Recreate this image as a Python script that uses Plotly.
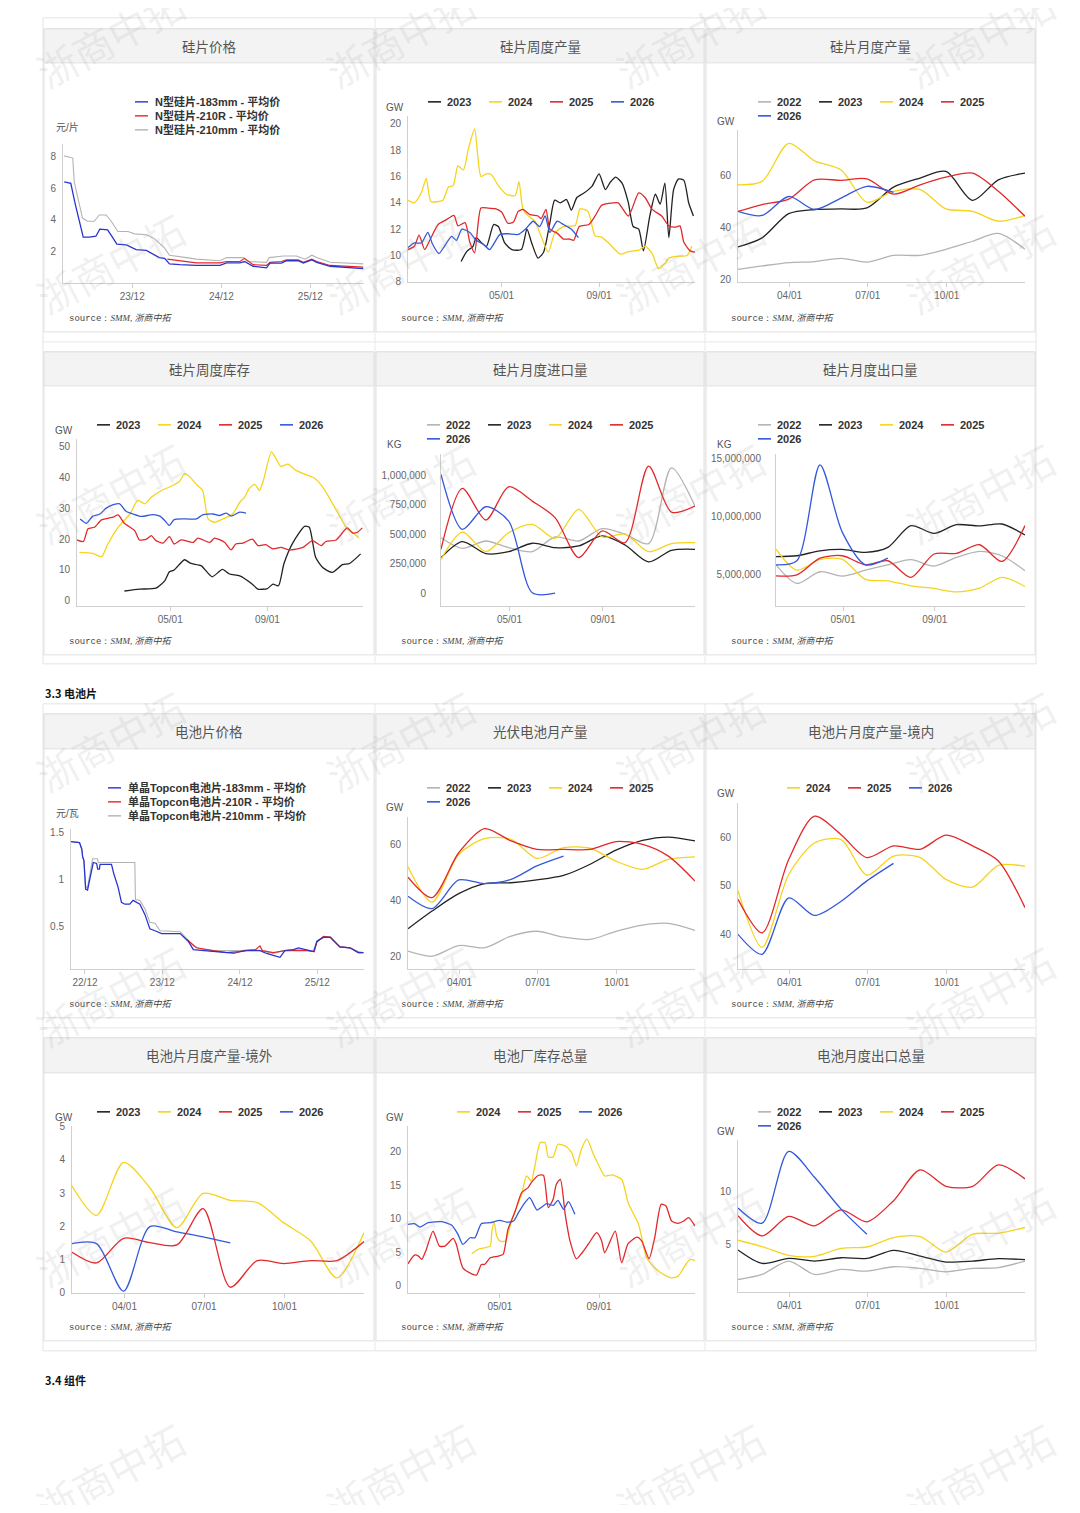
import pandas as pd
import plotly.graph_objects as go

# ---------------- 数据 ----------------
YEARS = ["2022", "2023", "2024", "2025", "2026"]
YEAR_COLORS = {"2022": "#b3b3b3", "2023": "#222222", "2024": "#f6d41c",
               "2025": "#e2282a", "2026": "#3358dc"}
BASE = pd.Timestamp("2025-01-01")                       # 周度数据按年内天数对齐
MONTH_END = pd.date_range("2025-01-31", periods=12, freq="ME")

# 硅片价格 (元/片)
wafer_183_dates = ["2023-02-25", "2023-03-24", "2023-04-11", "2023-04-27", "2023-05-14", "2023-06-08",
                   "2023-07-05", "2023-07-21", "2023-08-22", "2023-09-06", "2023-09-29", "2023-11-07",
                   "2023-12-17", "2024-01-28", "2024-02-24", "2024-03-21", "2024-04-12", "2024-05-02",
                   "2024-06-13", "2024-08-20", "2024-11-25", "2024-12-22", "2025-02-15", "2025-03-06",
                   "2025-04-10", "2025-06-04", "2025-06-18", "2025-08-04", "2025-08-25", "2025-10-12",
                   "2025-11-02", "2025-12-07", "2025-12-27", "2026-02-20", "2026-07-06"]
wafer_183 = [6.4, 6.3, 5.0, 3.9, 2.9, 2.9, 2.95, 3.4, 3.35, 3.0, 2.45, 2.4, 2.1, 2.05, 1.8, 1.6, 1.55,
             1.2, 1.15, 1.1, 1.1, 1.27, 1.27, 1.35, 1.05, 0.95, 1.25, 1.25, 1.4, 1.4, 1.25, 1.45, 1.3,
             1.05, 0.9]
wafer_210r_dates = ["2024-04-23", "2024-06-13", "2024-08-20", "2024-11-25", "2024-12-22", "2025-02-15",
                    "2025-03-06", "2025-04-10", "2025-06-04", "2025-06-18", "2025-08-04", "2025-08-25",
                    "2025-10-12", "2025-11-02", "2025-12-07", "2025-12-27", "2026-02-20", "2026-07-06"]
wafer_210r = [1.5, 1.4, 1.27, 1.27, 1.35, 1.35, 1.55, 1.15, 1.1, 1.3, 1.35, 1.45, 1.45, 1.3, 1.5, 1.35,
              1.1, 1.0]
wafer_210_dates = ["2023-02-25", "2023-04-01", "2023-04-07", "2023-04-27", "2023-05-11", "2023-06-01",
                   "2023-06-28", "2023-07-19", "2023-08-16", "2023-09-06", "2023-10-03", "2023-11-14",
                   "2023-12-10", "2024-01-28", "2024-03-01", "2024-04-12", "2024-05-02", "2024-07-10",
                   "2024-08-20", "2024-11-25", "2024-12-22", "2025-03-01", "2025-03-20", "2025-06-04",
                   "2025-06-15", "2025-08-12", "2025-10-05", "2025-11-09", "2025-12-07", "2025-12-27",
                   "2026-02-20", "2026-07-06"]
wafer_210 = [8.04, 7.9, 6.4, 5.1, 4.1, 3.9, 3.9, 4.3, 4.3, 3.9, 3.25, 3.25, 3.1, 3.05, 2.8, 2.2, 1.75,
             1.6, 1.5, 1.4, 1.6, 1.6, 1.35, 1.3, 1.6, 1.7, 1.7, 1.5, 1.75, 1.6, 1.3, 1.2]

# 硅片周度产量 (GW), x 为年内天数
wk_prod_doy = {
    "2023": [69, 76, 84, 88, 95, 101, 110, 116, 124, 133, 145, 152, 158, 166, 173, 181, 187, 194, 202,
             208, 215, 223, 234, 243, 251, 257, 264, 272, 280, 286, 293, 299, 307, 314, 320, 326, 331,
             337, 343, 350, 356, 362],
    "2024": [2, 10, 19, 25, 31, 46, 53, 59, 65, 72, 78, 86, 94, 101, 107, 116, 126, 137, 142, 147, 154,
             162, 170, 179, 187, 198, 213, 219, 229, 238, 246, 255, 270, 280, 293, 301, 310, 318, 326,
             331, 343, 354, 360],
    "2025": [2, 10, 16, 23, 29, 40, 50, 60, 65, 74, 80, 86, 94, 103, 112, 120, 128, 135, 141, 147, 156,
             166, 170, 176, 181, 190, 198, 206, 211, 218, 230, 238, 246, 255, 267, 280, 293, 301, 310,
             322, 331, 339, 345, 350, 358, 364],
    "2026": [2, 10, 19, 27, 33, 41, 48, 57, 63, 70, 80, 88, 97, 105, 118, 128, 141, 150, 160, 168, 175,
             181, 190, 198, 208, 217],
}
wk_prod = {
    "2023": [9.55, 10.3, 10.7, 11.35, 10.95, 10.7, 12.35, 12.2, 10.95, 10.45, 10.45, 12.0, 10.95, 9.8,
             10.25, 12.5, 14.2, 14.0, 14.25, 13.45, 14.4, 14.7, 15.25, 16.2, 15.0, 15.55, 15.95, 15.5,
             14.0, 12.2, 12.0, 10.35, 13.0, 14.65, 13.9, 15.5, 11.35, 15.0, 15.8, 15.7, 14.0, 13.0],
    "2024": [14.2, 14.0, 14.8, 15.85, 14.1, 14.2, 15.2, 15.3, 16.8, 16.5, 18.05, 19.6, 16.0, 16.2, 16.15,
             15.3, 14.65, 14.55, 15.6, 13.5, 13.0, 12.6, 11.45, 10.25, 11.7, 12.2, 12.3, 13.55, 13.35,
             11.5, 11.4, 10.95, 10.1, 10.3, 10.4, 10.7, 10.15, 9.0, 9.4, 9.8, 9.95, 10.0, 10.7],
    "2025": [10.45, 10.7, 11.55, 10.45, 11.1, 12.35, 12.7, 13.05, 12.25, 12.5, 11.0, 10.2, 13.6, 13.6,
             13.55, 13.3, 12.45, 12.55, 13.35, 13.5, 13.1, 13.0, 12.8, 13.5, 12.0, 11.7, 11.25, 11.25,
             11.15, 12.2, 12.35, 13.0, 13.8, 13.95, 14.0, 13.0, 14.75, 14.4, 13.5, 13.0, 12.25, 12.15,
             12.25, 11.0, 10.35, 10.25],
    "2026": [10.6, 10.95, 10.95, 11.75, 10.85, 10.15, 10.7, 11.45, 11.15, 12.0, 11.75, 11.15, 10.85,
             10.45, 11.6, 11.65, 11.6, 12.0, 12.6, 12.2, 13.0, 11.75, 12.6, 12.35, 12.0, 11.35],
}

# 硅片月度产量 (GW)
m_wafer = {
    "2022": [23.8, 25.1, 26.4, 26.8, 28.0, 26.6, 29.2, 29.2, 31.5, 34.6, 37.6, 31.5],
    "2023": [32.4, 35.9, 45.2, 46.8, 47.0, 47.4, 55.4, 58.9, 61.4, 50.3, 58.2, 60.8],
    "2024": [56.3, 57.6, 72.2, 65.5, 62.0, 49.6, 53.8, 54.4, 47.0, 46.1, 42.3, 44.5],
    "2025": [46.1, 48.7, 50.8, 58.2, 58.0, 58.6, 52.7, 56.3, 59.2, 60.8, 53.8, 44.2],
    "2026": [46.1, 44.5, 51.8, 46.8, 51.2, 55.7, 53.4],
}

# 硅片周度库存 (GW)
wk_inv_doy = {
    "2023": [62, 81, 102, 113, 119, 125, 138, 146, 159, 173, 186, 195, 208, 224, 231, 243, 250, 257,
             264, 275, 290, 296, 304, 313, 325, 338, 347, 361],
    "2024": [5, 22, 33, 41, 54, 69, 79, 88, 96, 109, 123, 132, 138, 144, 153, 161, 168, 176, 184, 199,
             208, 214, 220, 227, 233, 238, 248, 254, 260, 269, 279, 292, 302, 313, 321, 334, 344, 353,
             359],
    "2025": [2, 10, 16, 24, 33, 41, 48, 54, 62, 75, 81, 90, 96, 102, 111, 119, 125, 134, 149, 155, 170,
             176, 189, 197, 203, 212, 224, 231, 241, 250, 260, 271, 288, 300, 311, 317, 330, 344, 351,
             357, 363],
    "2026": [6, 14, 22, 31, 39, 48, 56, 64, 73, 83, 98, 107, 113, 119, 125, 140, 153, 161, 174, 182,
             191, 197, 208, 216],
}
wk_inv = {
    "2023": [3.2, 3.8, 4.1, 6.5, 9.4, 10.0, 13.3, 12.1, 11.4, 7.8, 10.2, 8.7, 8.1, 5.4, 3.8, 4.0, 5.4,
             4.9, 12.1, 18.7, 24.1, 23.8, 14.1, 10.8, 9.2, 11.7, 12.1, 15.2],
    "2024": [15.7, 15.4, 14.3, 18.4, 23.8, 28.1, 32.5, 31.4, 33.5, 35.7, 37.3, 38.7, 41.1, 40.3, 37.7,
             35.7, 26.5, 25.4, 26.2, 28.1, 31.9, 33.5, 36.3, 37.7, 35.7, 39.0, 48.2, 46.0, 43.5, 44.2,
             42.2, 40.8, 39.8, 36.8, 33.5, 27.6, 23.3, 21.6, 20.3],
    "2025": [19.7, 19.2, 23.3, 23.8, 26.2, 26.7, 27.1, 27.8, 25.1, 22.7, 19.7, 20.0, 21.1, 19.5, 18.7,
             20.8, 18.4, 19.7, 18.9, 20.3, 18.9, 20.3, 18.9, 16.5, 18.4, 18.7, 20.0, 17.9, 18.2, 16.8,
             17.3, 16.5, 17.3, 19.5, 17.9, 19.2, 19.7, 23.6, 22.0, 22.2, 23.6],
    "2026": [26.5, 25.1, 27.4, 28.1, 30.0, 31.1, 31.4, 29.0, 28.1, 27.3, 27.9, 27.4, 26.0, 24.4, 26.3,
             26.5, 26.5, 27.8, 28.1, 27.6, 28.4, 27.4, 28.7, 28.4],
}

# 硅片月度进口量 (KG)
m_import = {
    "2022": [470000, 380000, 442000, 386000, 352000, 476000, 442000, 547000, 500000, 420000, 1062000, 738000],
    "2023": [301000, 437000, 335000, 352000, 423000, 386000, 400000, 485000, 408000, 265000, 363000, 372000],
    "2024": [287000, 518000, 352000, 513000, 583000, 465000, 710000, 476000, 500000, 352000, 420000, 428000],
    "2025": [372000, 887000, 620000, 901000, 780000, 640000, 301000, 527000, 428000, 1076000, 687000, 738000],
    "2026": [1006000, 541000, 732000, 611000, 4000, 0],
}

# 硅片月度出口量 (KG)
m_export = {
    "2022": [5860000, 4250000, 5260000, 4880000, 5400000, 5860000, 6300000, 5750000, 6500000, 7020000, 6640000, 5350000],
    "2023": [6560000, 6640000, 7070000, 7190000, 6930000, 7360000, 9240000, 8570000, 9320000, 9210000, 9380000, 8430000],
    "2024": [7220000, 5400000, 6330000, 6330000, 4600000, 4480000, 4050000, 3820000, 3530000, 3850000, 4770000, 3990000],
    "2025": [4910000, 5000000, 6440000, 6640000, 5860000, 6210000, 4770000, 6790000, 6840000, 7590000, 6150000, 9240000],
    "2026": [5860000, 6210000, 14480000, 8660000, 5860000, 6440000],
}

# 电池片价格 (元/瓦)
cell_183_dates = ["2022-09-26", "2022-11-05", "2022-11-16", "2022-11-20", "2022-11-26", "2022-12-04",
                  "2022-12-13", "2022-12-27", "2023-01-09", "2023-01-25", "2023-01-30", "2023-02-07",
                  "2023-02-10", "2023-04-05", "2023-04-16", "2023-05-06", "2023-05-22", "2023-06-07",
                  "2023-06-30", "2023-07-16", "2023-08-17", "2023-09-10", "2023-10-03", "2023-10-27",
                  "2023-11-28", "2024-02-23", "2024-03-09", "2024-04-01", "2024-04-25", "2024-06-11",
                  "2024-07-28", "2024-09-30", "2024-12-02", "2025-01-03", "2025-03-05", "2025-04-06",
                  "2025-05-07", "2025-06-08", "2025-07-01", "2025-08-10", "2025-09-03", "2025-10-12",
                  "2025-11-13", "2025-11-29", "2025-12-30", "2026-01-31", "2026-03-17", "2026-05-04",
                  "2026-06-12", "2026-07-06"]
cell_183 = [1.40, 1.39, 1.32, 1.24, 1.20, 0.90, 0.89, 1.06, 1.18, 1.17, 1.11, 1.11, 1.16, 1.16, 1.06,
            0.92, 0.76, 0.74, 0.74, 0.78, 0.74, 0.63, 0.48, 0.46, 0.43, 0.43, 0.40, 0.35, 0.26, 0.25,
            0.24, 0.23, 0.24, 0.25, 0.25, 0.22, 0.20, 0.18, 0.25, 0.26, 0.28, 0.26, 0.24, 0.35, 0.39,
            0.39, 0.29, 0.28, 0.23, 0.23]
cell_210r_dates = ["2024-03-24", "2024-05-10", "2024-07-28", "2024-11-01", "2024-12-18", "2025-02-12",
                   "2025-03-05", "2025-03-17", "2025-05-07", "2025-07-01", "2025-10-12", "2025-11-16",
                   "2025-11-29", "2025-12-30", "2026-01-31", "2026-03-17", "2026-05-04", "2026-06-12",
                   "2026-07-06"]
cell_210r = [0.37, 0.28, 0.25, 0.22, 0.25, 0.26, 0.30, 0.25, 0.23, 0.25, 0.25, 0.24, 0.34, 0.40, 0.39,
             0.29, 0.28, 0.23, 0.23]
cell_210_dates = ["2022-09-26", "2022-11-05", "2022-11-16", "2022-11-20", "2022-11-26", "2022-12-04",
                  "2022-12-13", "2022-12-27", "2023-01-06", "2023-01-28", "2023-02-02", "2023-07-24",
                  "2023-07-27", "2023-08-17", "2023-09-10", "2023-10-03", "2023-10-27", "2023-11-20",
                  "2024-02-23", "2024-03-24", "2024-04-25", "2024-05-26", "2024-07-28", "2024-12-02",
                  "2025-02-04", "2025-03-13", "2025-05-07", "2025-06-24", "2025-08-10", "2025-10-12",
                  "2025-11-16", "2025-11-29", "2025-12-30", "2026-01-31", "2026-03-17", "2026-05-04",
                  "2026-06-12", "2026-07-06"]
cell_210 = [1.40, 1.39, 1.32, 1.24, 1.20, 0.92, 0.92, 1.09, 1.22, 1.22, 1.18, 1.18, 0.79, 0.78, 0.69,
            0.55, 0.54, 0.46, 0.45, 0.38, 0.30, 0.27, 0.25, 0.25, 0.26, 0.25, 0.22, 0.25, 0.26, 0.26,
            0.24, 0.35, 0.40, 0.40, 0.29, 0.28, 0.24, 0.23]

# 光伏电池月产量 (GW)
m_cell = {
    "2022": [21.9, 20.1, 23.9, 23.1, 27.3, 29.0, 26.9, 26.1, 29.0, 31.2, 31.8, 29.3],
    "2023": [29.9, 36.2, 42.4, 46.0, 46.3, 47.3, 48.9, 52.9, 57.9, 61.4, 62.6, 61.2],
    "2024": [52.0, 39.4, 56.4, 62.0, 61.8, 55.0, 58.8, 58.6, 54.0, 51.1, 54.6, 55.5],
    "2025": [48.3, 41.0, 57.0, 65.6, 61.2, 58.2, 58.2, 58.2, 61.0, 60.0, 55.8, 46.9],
    "2026": [41.5, 37.1, 47.3, 46.0, 47.5, 52.3, 55.8],
}

# 电池片月度产量-境内 (GW)
m_cell_dom = {
    "2024": [49.0, 37.3, 52.3, 58.8, 59.5, 52.2, 56.1, 55.8, 51.3, 49.7, 54.2, 54.0],
    "2025": [47.2, 40.3, 55.4, 64.3, 60.5, 55.8, 58.2, 57.5, 60.4, 58.2, 55.1, 45.5],
    "2026": [40.0, 35.9, 47.5, 43.9, 46.8, 51.0, 54.6],
}

# 电池片月度产量-境外 (GW)
m_cell_abr = {
    "2023": [],
    "2024": [3.21, 2.33, 3.92, 3.16, 1.96, 2.99, 2.78, 2.71, 2.11, 1.56, 0.45, 1.81],
    "2025": [1.22, 0.90, 1.64, 1.51, 1.44, 2.53, 0.17, 0.97, 0.88, 0.97, 0.97, 1.54],
    "2026": [1.48, 1.48, 0.05, 1.99, 1.83, 1.68, 1.50],
}

# 电池厂库存总量 (GW)
wk_stock_doy = {
    "2024": [85, 93, 101, 108, 110, 113, 116, 120, 127, 132, 139, 147, 153, 159, 163, 170, 176, 180,
             186, 192, 201, 209, 215, 221, 228, 236, 242, 250, 259, 271, 279, 292, 302, 312, 323, 333,
             341, 352, 356, 362],
    "2025": [6, 14, 19, 23, 28, 37, 45, 52, 62, 66, 74, 85, 91, 97, 101, 108, 118, 124, 130, 139, 147,
             155, 159, 168, 174, 180, 186, 190, 195, 201, 207, 215, 221, 230, 240, 246, 250, 263, 271,
             279, 290, 296, 305, 312, 320, 326, 333, 341, 348, 354, 362],
    "2026": [6, 14, 21, 31, 48, 60, 68, 74, 83, 89, 97, 108, 120, 128, 137, 143, 151, 157, 166, 172,
             178, 186, 192, 199, 205, 213],
}
wk_stock = {
    "2024": [4.75, 5.4, 5.65, 5.9, 8.15, 9.4, 7.4, 6.65, 6.65, 8.65, 11.15, 13.65, 16.4, 15.65, 17.65,
             21.4, 21.4, 19.25, 19.25, 21.15, 20.9, 19.9, 17.9, 20.4, 21.9, 19.65, 18.15, 16.4, 16.55,
             15.9, 12.4, 9.15, 4.15, 2.65, 1.65, 1.15, 1.4, 3.4, 3.9, 3.75],
    "2025": [3.25, 4.55, 4.4, 3.9, 5.15, 8.15, 5.9, 5.9, 7.05, 6.15, 2.65, 1.75, 1.55, 3.15, 3.15, 4.15,
             4.4, 4.65, 8.4, 11.15, 13.9, 14.65, 15.4, 16.5, 16.5, 11.65, 12.9, 15.15, 15.9, 10.65, 6.65,
             4.0, 4.75, 6.25, 7.9, 6.75, 4.9, 8.15, 3.4, 6.25, 7.25, 6.65, 4.0, 7.15, 12.15, 11.9, 9.65,
             9.3, 9.65, 10.15, 8.9],
    "2026": [9.15, 9.25, 8.75, 9.4, 9.55, 9.05, 7.65, 6.15, 7.15, 7.15, 9.25, 9.4, 9.75, 9.5, 9.65, 10.9,
             12.4, 13.15, 11.3, 11.75, 12.25, 12.0, 12.75, 11.4, 12.55, 10.65],
}

# 电池月度出口总量 (GW)
m_cell_exp = {
    "2022": [1.78, 2.25, 3.5, 2.25, 2.72, 2.56, 2.97, 2.81, 2.5, 2.81, 2.88, 3.5],
    "2023": [4.53, 3.28, 3.75, 3.5, 3.81, 3.75, 4.5, 3.97, 3.41, 3.5, 3.72, 3.63],
    "2024": [5.44, 4.84, 4.03, 3.94, 4.69, 4.81, 5.69, 5.78, 4.34, 6.0, 6.09, 6.63],
    "2025": [7.72, 5.84, 7.66, 6.78, 8.28, 7.16, 9.13, 12.0, 10.47, 10.47, 12.47, 11.16],
    "2026": [8.44, 7.03, 13.72, 11.31, 8.34, 6.0],
}

# ---------------- 版面 ----------------
W, H, OFF = 1064, 1497, 8          # 页面 body 默认 8px 边距


def px(x):
    return (x - OFF) / W


def py(y):
    # 截图里纵向有轻微压缩，按实测换算回设计坐标
    yd = (y - 4.2) / 0.99333
    return 1 - (yd - OFF) / H


FONT = "Liberation Sans, Arial, Noto Sans CJK SC, sans-serif"
CJK = "Noto Sans CJK SC, sans-serif"
AXIS = "#cfcfcf"
TICKFONT = dict(family=FONT, size=10, color="#666")

fig = go.Figure()
shapes, annos = [], []


def ax(n):
    return "" if n == 1 else str(n)


def add_line(n, x, y, color, shape="spline", smoothing=0.8, width=1.3):
    fig.add_trace(go.Scatter(x=x, y=y, mode="lines", showlegend=False, hoverinfo="skip",
                             line=dict(color=color, width=width, shape=shape, smoothing=smoothing),
                             xaxis="x" + ax(n), yaxis="y" + ax(n)))


def set_axes(n, box, xrange, xticks, xlabels, yrange, yticks, yfmt="", standoff=4):
    x0, x1, yt, yb = box
    k = ax(n)
    fig.update_layout(**{
        "xaxis" + k: dict(domain=[px(x0), px(x1)], anchor="y" + k, type="date", range=xrange,
                          tickmode="array", tickvals=xticks, ticktext=xlabels, showline=True,
                          linecolor=AXIS, ticks="outside", ticklen=4, tickcolor=AXIS,
                          showgrid=False, zeroline=False, tickfont=TICKFONT, fixedrange=True),
        "yaxis" + k: dict(domain=[py(yb), py(yt)], anchor="x" + k, range=yrange, tickmode="array",
                          tickvals=yticks, tickformat=yfmt, showline=True, linecolor=AXIS, ticks="",
                          showgrid=False, zeroline=False, tickfont=TICKFONT,
                          ticklabelstandoff=standoff, fixedrange=True),
    })


def legend_row(x0, y0, names, step=61, per_row=4):
    for i, name in enumerate(names):
        r, c = divmod(i, per_row)
        x, y = x0 + c * step, y0 + r * 14
        shapes.append(dict(type="line", xref="paper", yref="paper", x0=px(x), x1=px(x + 13),
                           y0=py(y), y1=py(y), line=dict(color=YEAR_COLORS[name], width=1.6)))
        annos.append(dict(text=f"<b>{name}</b>", x=px(x + 17), y=py(y), xref="paper", yref="paper",
                          xanchor="left", yanchor="middle", showarrow=False,
                          font=dict(family=FONT, size=11, color="#333")))


def legend_col(x0, y0, items):
    for i, (name, color) in enumerate(items):
        y = y0 + i * 14
        shapes.append(dict(type="line", xref="paper", yref="paper", x0=px(x0), x1=px(x0 + 13),
                           y0=py(y), y1=py(y), line=dict(color=color, width=1.4)))
        annos.append(dict(text=f"<b>{name}</b>", x=px(x0 + 18), y=py(y), xref="paper", yref="paper",
                          xanchor="left", yanchor="middle", showarrow=False,
                          font=dict(family=FONT, size=11, color="#333")))


def text(x, y, s, size=10, color="#555", family=FONT, xanchor="left", angle=0):
    annos.append(dict(text=s, x=px(x), y=py(y), xref="paper", yref="paper", xanchor=xanchor,
                      yanchor="middle", showarrow=False, textangle=angle,
                      font=dict(family=family, size=size, color=color)))


# 表格外框与卡片
for top, bot, hline in [(17, 663, 341), (703, 1350, 1027)]:
    shapes.append(dict(type="rect", xref="paper", yref="paper", x0=px(43), x1=px(1036), y0=py(bot),
                       y1=py(top), line=dict(color="#e4e4e4", width=1), layer="below"))
    for vx in (375, 705):
        shapes.append(dict(type="line", xref="paper", yref="paper", x0=px(vx), x1=px(vx), y0=py(bot),
                           y1=py(top), line=dict(color="#e8e8e8", width=1), layer="below"))
    shapes.append(dict(type="line", xref="paper", yref="paper", x0=px(43), x1=px(1036), y0=py(hline),
                       y1=py(hline), line=dict(color="#e8e8e8", width=1), layer="below"))

COL_L, COL_R = [44, 376, 706], [374, 704, 1035]
ROWS = [(28, 62, 331), (351, 385, 654), (713, 748, 1017), (1037, 1072, 1340)]
TITLES = ["硅片价格", "硅片周度产量", "硅片月度产量", "硅片周度库存", "硅片月度进口量", "硅片月度出口量",
          "电池片价格", "光伏电池月产量", "电池片月度产量-境内", "电池片月度产量-境外", "电池厂库存总量",
          "电池月度出口总量"]
for i, title in enumerate(TITLES):
    r, c = divmod(i, 3)
    ht, hb, pb = ROWS[r]
    l, rr = COL_L[c], COL_R[c]
    shapes.append(dict(type="rect", xref="paper", yref="paper", x0=px(l), x1=px(rr), y0=py(pb),
                       y1=py(ht), line=dict(color="#e0e0e0", width=1), fillcolor="white", layer="below"))
    shapes.append(dict(type="rect", xref="paper", yref="paper", x0=px(l), x1=px(rr), y0=py(hb),
                       y1=py(ht), line=dict(color="#e0e0e0", width=1), fillcolor="#f3f3f3", layer="below"))
    text((l + rr) / 2, (ht + hb) / 2, title, size=13.5, color="#555", family=CJK, xanchor="center")
    text(l + 23, pb - 13,
         "<span style='font-family:Liberation Mono'>source：</span>"
         "<i>SMM, 浙商中拓</i>", size=9, color="#444", family="Liberation Serif, Noto Sans CJK SC")

WK_RANGE = [BASE + pd.Timedelta(days=2), BASE + pd.Timedelta(days=364)]
WK_TICKS, WK_TEXT = ["2025-05-01", "2025-09-01"], ["05/01", "09/01"]
M_RANGE = [MONTH_END[0], MONTH_END[-1]]
Q_TICKS, Q_TEXT = ["2025-04-01", "2025-07-01", "2025-10-01"], ["04/01", "07/01", "10/01"]


def wk(doy):
    return BASE + pd.to_timedelta(doy, unit="D")


# 1 硅片价格
set_axes(1, (63, 364, 143, 282), ["2023-02-20", "2026-07-09"],
         ["2023-12-01", "2024-12-01", "2025-12-01"], ["23/12", "24/12", "25/12"],
         [0, 8.8], [2, 4, 6, 8])
add_line(1, wafer_210_dates, wafer_210, "#b3b3b3", shape="linear", width=1.1)
add_line(1, wafer_210r_dates, wafer_210r, "#e2282a", shape="linear", width=1.2)
add_line(1, wafer_183_dates, wafer_183, "#2b33cf", shape="linear", width=1.3)
legend_col(135, 101, [("N型硅片-183mm - 平均价", "#2b33cf"), ("N型硅片-210R - 平均价", "#e2282a"),
                      ("N型硅片-210mm - 平均价", "#b3b3b3")])
text(54, 126, "元/片")

# 2 硅片周度产量
set_axes(2, (408, 695, 115, 281), WK_RANGE, WK_TICKS, WK_TEXT, [8, 20.6], list(range(8, 21, 2)))
for y in ["2023", "2024", "2025", "2026"]:
    add_line(2, wk(wk_prod_doy[y]), wk_prod[y], YEAR_COLORS[y], smoothing=0.6)
legend_row(428, 101, ["2023", "2024", "2025", "2026"])
text(384, 107, "GW")

# 3 硅片月度产量
set_axes(3, (738, 1025, 129, 281), M_RANGE, Q_TICKS, Q_TEXT, [19, 77.4], [20, 40, 60])
for y in YEARS:
    add_line(3, MONTH_END[:len(m_wafer[y])], m_wafer[y], YEAR_COLORS[y])
legend_row(758, 101, YEARS)
text(715, 121, "GW")

# 4 硅片周度库存
set_axes(4, (77, 363, 438, 605), WK_RANGE, WK_TICKS, WK_TEXT, [-1.6, 52.4], list(range(0, 51, 10)))
for y in ["2023", "2024", "2025", "2026"]:
    add_line(4, wk(wk_inv_doy[y]), wk_inv[y], YEAR_COLORS[y], smoothing=0.6)
legend_row(97, 424, ["2023", "2024", "2025", "2026"])
text(53, 430, "GW")

# 5 硅片月度进口量
set_axes(5, (441, 695, 453, 605), M_RANGE, WK_TICKS, WK_TEXT, [-107000, 1180000],
         [0, 250000, 500000, 750000, 1000000], yfmt=",", standoff=12)
for y in YEARS:
    add_line(5, MONTH_END[:len(m_import[y])], m_import[y], YEAR_COLORS[y])
legend_row(427, 424, YEARS)
text(385, 444, "KG")

# 6 硅片月度出口量
set_axes(6, (776, 1025, 453, 605), M_RANGE, WK_TICKS, WK_TEXT, [2320000, 15430000],
         [5000000, 10000000, 15000000], yfmt=",", standoff=12)
for y in YEARS:
    add_line(6, MONTH_END[:len(m_export[y])], m_export[y], YEAR_COLORS[y])
legend_row(758, 424, YEARS)
text(715, 444, "KG")

# 7 电池片价格
set_axes(7, (71, 364, 828, 968), ["2022-09-26", "2026-07-09"],
         ["2022-12-01", "2023-12-01", "2024-12-01", "2025-12-01"], ["22/12", "23/12", "24/12", "25/12"],
         [0.058, 1.535], [0.5, 1, 1.5])
add_line(7, cell_210_dates, cell_210, "#b3b3b3", shape="linear", width=1.1)
add_line(7, cell_210r_dates, cell_210r, "#e2282a", shape="linear", width=1.2)
add_line(7, cell_183_dates, cell_183, "#2b33cf", shape="linear", width=1.3)
legend_col(108, 787, [("单晶Topcon电池片-183mm - 平均价", "#2b33cf"),
                      ("单晶Topcon电池片-210R - 平均价", "#e2282a"),
                      ("单晶Topcon电池片-210mm - 平均价", "#b3b3b3")])
text(54, 813, "元/瓦")

# 8 光伏电池月产量
set_axes(8, (408, 695, 816, 968), M_RANGE, Q_TICKS, Q_TEXT, [15.6, 69.8], [20, 40, 60])
for y in YEARS:
    add_line(8, MONTH_END[:len(m_cell[y])], m_cell[y], YEAR_COLORS[y])
legend_row(427, 787, YEARS)
text(384, 807, "GW")

# 9 电池片月度产量-境内
set_axes(9, (738, 1025, 802, 968), M_RANGE, Q_TICKS, Q_TEXT, [32.9, 67.05], [40, 50, 60])
for y in ["2024", "2025", "2026"]:
    add_line(9, MONTH_END[:len(m_cell_dom[y])], m_cell_dom[y], YEAR_COLORS[y])
legend_row(787, 787, ["2024", "2025", "2026"])
text(715, 793, "GW")

# 10 电池片月度产量-境外
set_axes(10, (72, 364, 1125, 1292), M_RANGE, Q_TICKS, Q_TEXT, [0, 5.02], [0, 1, 2, 3, 4, 5])
for y in ["2023", "2024", "2025", "2026"]:
    add_line(10, MONTH_END[:len(m_cell_abr[y])], m_cell_abr[y], YEAR_COLORS[y])
legend_row(97, 1111, ["2023", "2024", "2025", "2026"])
text(53, 1117, "GW")

# 11 电池厂库存总量
set_axes(11, (408, 695, 1125, 1292), [BASE + pd.Timedelta(days=6), BASE + pd.Timedelta(days=362)],
         WK_TICKS, WK_TEXT, [-1.1, 23.9], [0, 5, 10, 15, 20])
for y in ["2024", "2025", "2026"]:
    add_line(11, wk(wk_stock_doy[y]), wk_stock[y], YEAR_COLORS[y], smoothing=0.6)
legend_row(457, 1111, ["2024", "2025", "2026"])
text(384, 1117, "GW")

# 12 电池月度出口总量
set_axes(12, (738, 1025, 1139, 1291), M_RANGE, Q_TICKS, Q_TEXT, [0.63, 14.8], [5, 10])
for y in YEARS:
    add_line(12, MONTH_END[:len(m_cell_exp[y])], m_cell_exp[y], YEAR_COLORS[y])
legend_row(758, 1111, YEARS)
text(715, 1131, "GW")

# 小节标题
text(43, 692, "<b>3.3 电池片</b>", size=11, color="#111", family=CJK)
text(43, 1379, "<b>3.4 组件</b>", size=11, color="#111", family=CJK)

# 水印
for wy in [36, 262, 492, 740, 995, 1235, 1472]:
    for wx in [110, 400, 690, 980]:
        text(wx, wy, "浙商中拓", size=40, color="rgba(160,160,160,0.17)", family=CJK,
             xanchor="center", angle=-28)

fig.update_layout(width=W, height=H, margin=dict(l=0, r=0, t=0, b=0), paper_bgcolor="white",
                  plot_bgcolor="rgba(0,0,0,0)", shapes=shapes, annotations=annos, showlegend=False)

fig.write_html("out.html")
